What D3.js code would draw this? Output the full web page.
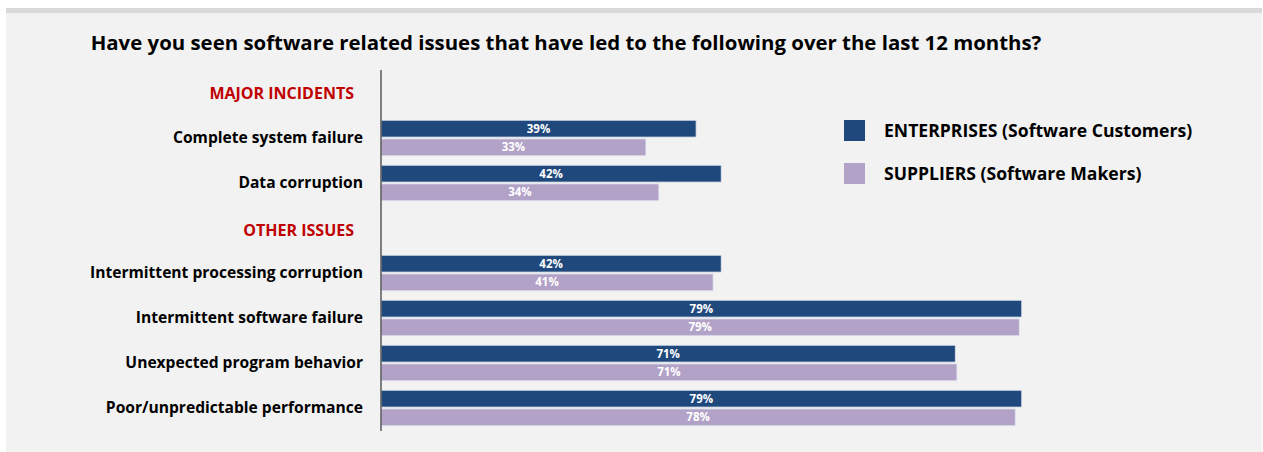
<!DOCTYPE html>
<html><head><meta charset="utf-8">
<script src="https://cdn.jsdelivr.net/npm/d3@7/dist/d3.min.js"></script>
<style>
html,body{margin:0;padding:0;background:#fff;}
svg{display:block;font-family:"Open Sans",Lato,sans-serif;}
</style></head>
<body><svg id="c" width="1263" height="452"></svg>
<script>
const title = "Have you seen software related issues that have led to the following over the last 12 months?";
const rows = ["MAJOR INCIDENTS","Complete system failure","Data corruption","OTHER ISSUES",
  "Intermittent processing corruption","Intermittent software failure","Unexpected program behavior","Poor/unpredictable performance"];
const headers = ["MAJOR INCIDENTS","OTHER ISSUES"];
const categories = ["Complete system failure","Data corruption","Intermittent processing corruption",
  "Intermittent software failure","Unexpected program behavior","Poor/unpredictable performance"];
const seriesNames = ["ENTERPRISES (Software Customers)","SUPPLIERS (Software Makers)"];
const enterprises = [38.9, 42.0, 42.0, 79.1, 70.9, 79.1];
const suppliers = [32.7, 34.3, 41.0, 78.8, 71.1, 78.3];
const colors = ["#1f497d","#b3a2c7"];

const FONT = "'Open Sans',Lato,sans-serif";
const svg = d3.select("#c");
svg.append("rect").attr("x",6).attr("y",8).attr("width",1256).attr("height",444).attr("fill","#f2f2f2");
svg.append("rect").attr("x",6).attr("y",8).attr("width",1256).attr("height",5).attr("fill","#d9d9d9");

svg.append("text").attr("x",566).attr("y",50).attr("text-anchor","middle")
  .attr("font-size",20.4).attr("font-weight",700).attr("fill","#000").text(title);

const x0 = 381;
const x = d3.scaleLinear().domain([0,100]).range([x0, x0+810]);
const y = d3.scaleBand().domain(rows).range([70.5,430.5]).padding(0);
const inner = d3.scaleBand().domain(seriesNames).range([0,35.5]).paddingInner(0.1);

const ax = svg.append("g").attr("transform",`translate(${x0},0)`)
  .call(d3.axisLeft(y).tickSize(0).tickPadding(18));
ax.select(".domain").remove();
ax.selectAll("text").attr("font-family",FONT).attr("font-size",15.6)
  .attr("font-weight",700).attr("fill","#000")
  .filter(d=>headers.includes(d)).attr("fill","#c00000").attr("dx",-9).attr("font-size",16)
  .attr("y", d => d==="OTHER ISSUES" ? 3 : 1);

const data = categories.map((c,i)=>({c, vals:[enterprises[i], suppliers[i]]}));
const g = svg.append("g");
data.forEach(d=>{
  d.vals.forEach((v,j)=>{
    const yy = y(d.c) + y.bandwidth()/2 - 17.75 + inner(seriesNames[j]);
    g.append("rect").attr("x",x(0)).attr("y",yy).attr("width",x(v)-x(0)).attr("height",inner.bandwidth())
      .attr("fill",colors[j]).attr("stroke","#dfe3ee").attr("stroke-width",0.8);
    g.append("text").attr("x",(x(0)+x(v))/2).attr("y",yy+inner.bandwidth()/2).attr("dy","0.35em")
      .attr("text-anchor","middle").attr("font-size",11.5).attr("font-weight",700).attr("fill","#fff")
      .text(Math.round(v)+"%");
  });
});

svg.append("line").attr("x1",x0).attr("x2",x0).attr("y1",70).attr("y2",431)
  .attr("stroke","#595959").attr("stroke-width",1.5);

const lg = svg.append("g");
seriesNames.forEach((s,i)=>{
  lg.append("rect").attr("x",844).attr("y",120+i*43).attr("width",21).attr("height",21).attr("fill",colors[i]);
  lg.append("text").attr("x",884).attr("y",131+i*43).attr("dy","0.35em").attr("font-size",17.6)
    .attr("font-weight",700).attr("fill","#000").text(s);
});
</script></body></html>
